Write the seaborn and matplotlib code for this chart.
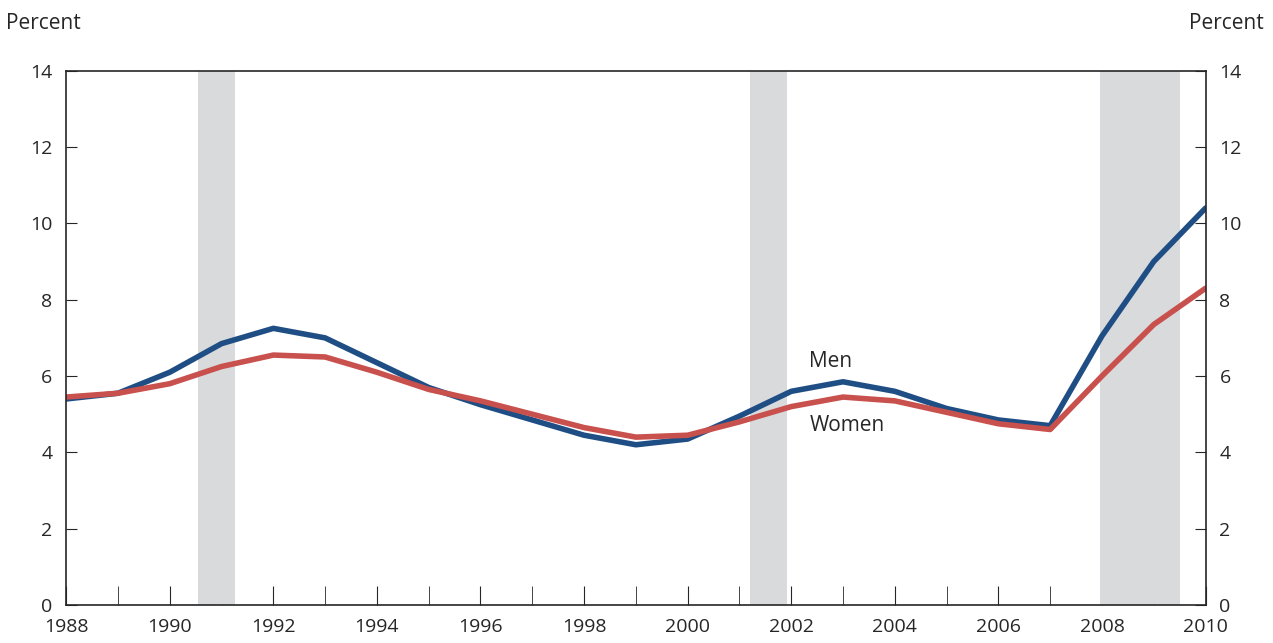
import matplotlib
matplotlib.use("Agg")
import matplotlib.pyplot as plt
import seaborn as sns
import pandas as pd

years = list(range(1988, 2011))
men = [5.4, 5.55, 6.1, 6.85, 7.25, 7.0, 6.35, 5.7, 5.25, 4.85, 4.45, 4.2, 4.35,
       4.95, 5.6, 5.85, 5.6, 5.15, 4.85, 4.7, 7.05, 9.0, 10.4]
women = [5.45, 5.55, 5.8, 6.25, 6.55, 6.5, 6.1, 5.65, 5.35, 5.0, 4.65, 4.4, 4.45,
         4.8, 5.2, 5.45, 5.35, 5.05, 4.75, 4.6, 6.0, 7.35, 8.3]
recessions = [(1990.55, 1991.25), (2001.2, 2001.92), (2007.96, 2009.5)]

df = pd.DataFrame({"year": years * 2, "rate": men + women,
                   "group": ["Men"] * len(years) + ["Women"] * len(years)})

sns.set_style("ticks")
plt.rcParams['font.family'] = ['Open Sans', 'DejaVu Sans']
fig, ax = plt.subplots(figsize=(12.73, 6.43), dpi=100)
fig.subplots_adjust(left=0.052, right=0.947, top=0.89, bottom=0.059)

for a, b in recessions:
    ax.axvspan(a, b, color="#d9dadc", lw=0)

sns.lineplot(data=df, x="year", y="rate", hue="group",
             palette={"Men": "#1f4e85", "Women": "#c8504d"},
             linewidth=4, legend=False, ax=ax)

ax.set_xlim(1988, 2010)
ax.set_ylim(0, 14)
ax.set_xticks(range(1988, 2011, 2))
ax.set_xticks(range(1988, 2011), minor=True)
ax.set_yticks(range(0, 15, 2))
ax.tick_params(axis="y", direction="in", length=8, labelsize=14, pad=10,
               right=True, labelright=True)
ax.tick_params(axis="x", which="both", direction="in", length=14, labelsize=14, pad=9)
ax.set_xlabel("")
ax.set_ylabel("")
for s in ax.spines.values():
    s.set_linewidth(1.2)

ax.text(2002.35, 6.25, "Men", fontsize=15)
ax.text(2002.35, 4.55, "Women", fontsize=15)
fig.text(0.005, 0.955, "Percent", fontsize=15)
fig.text(0.993, 0.955, "Percent", fontsize=15, ha="right")

fig.savefig("out.png")
